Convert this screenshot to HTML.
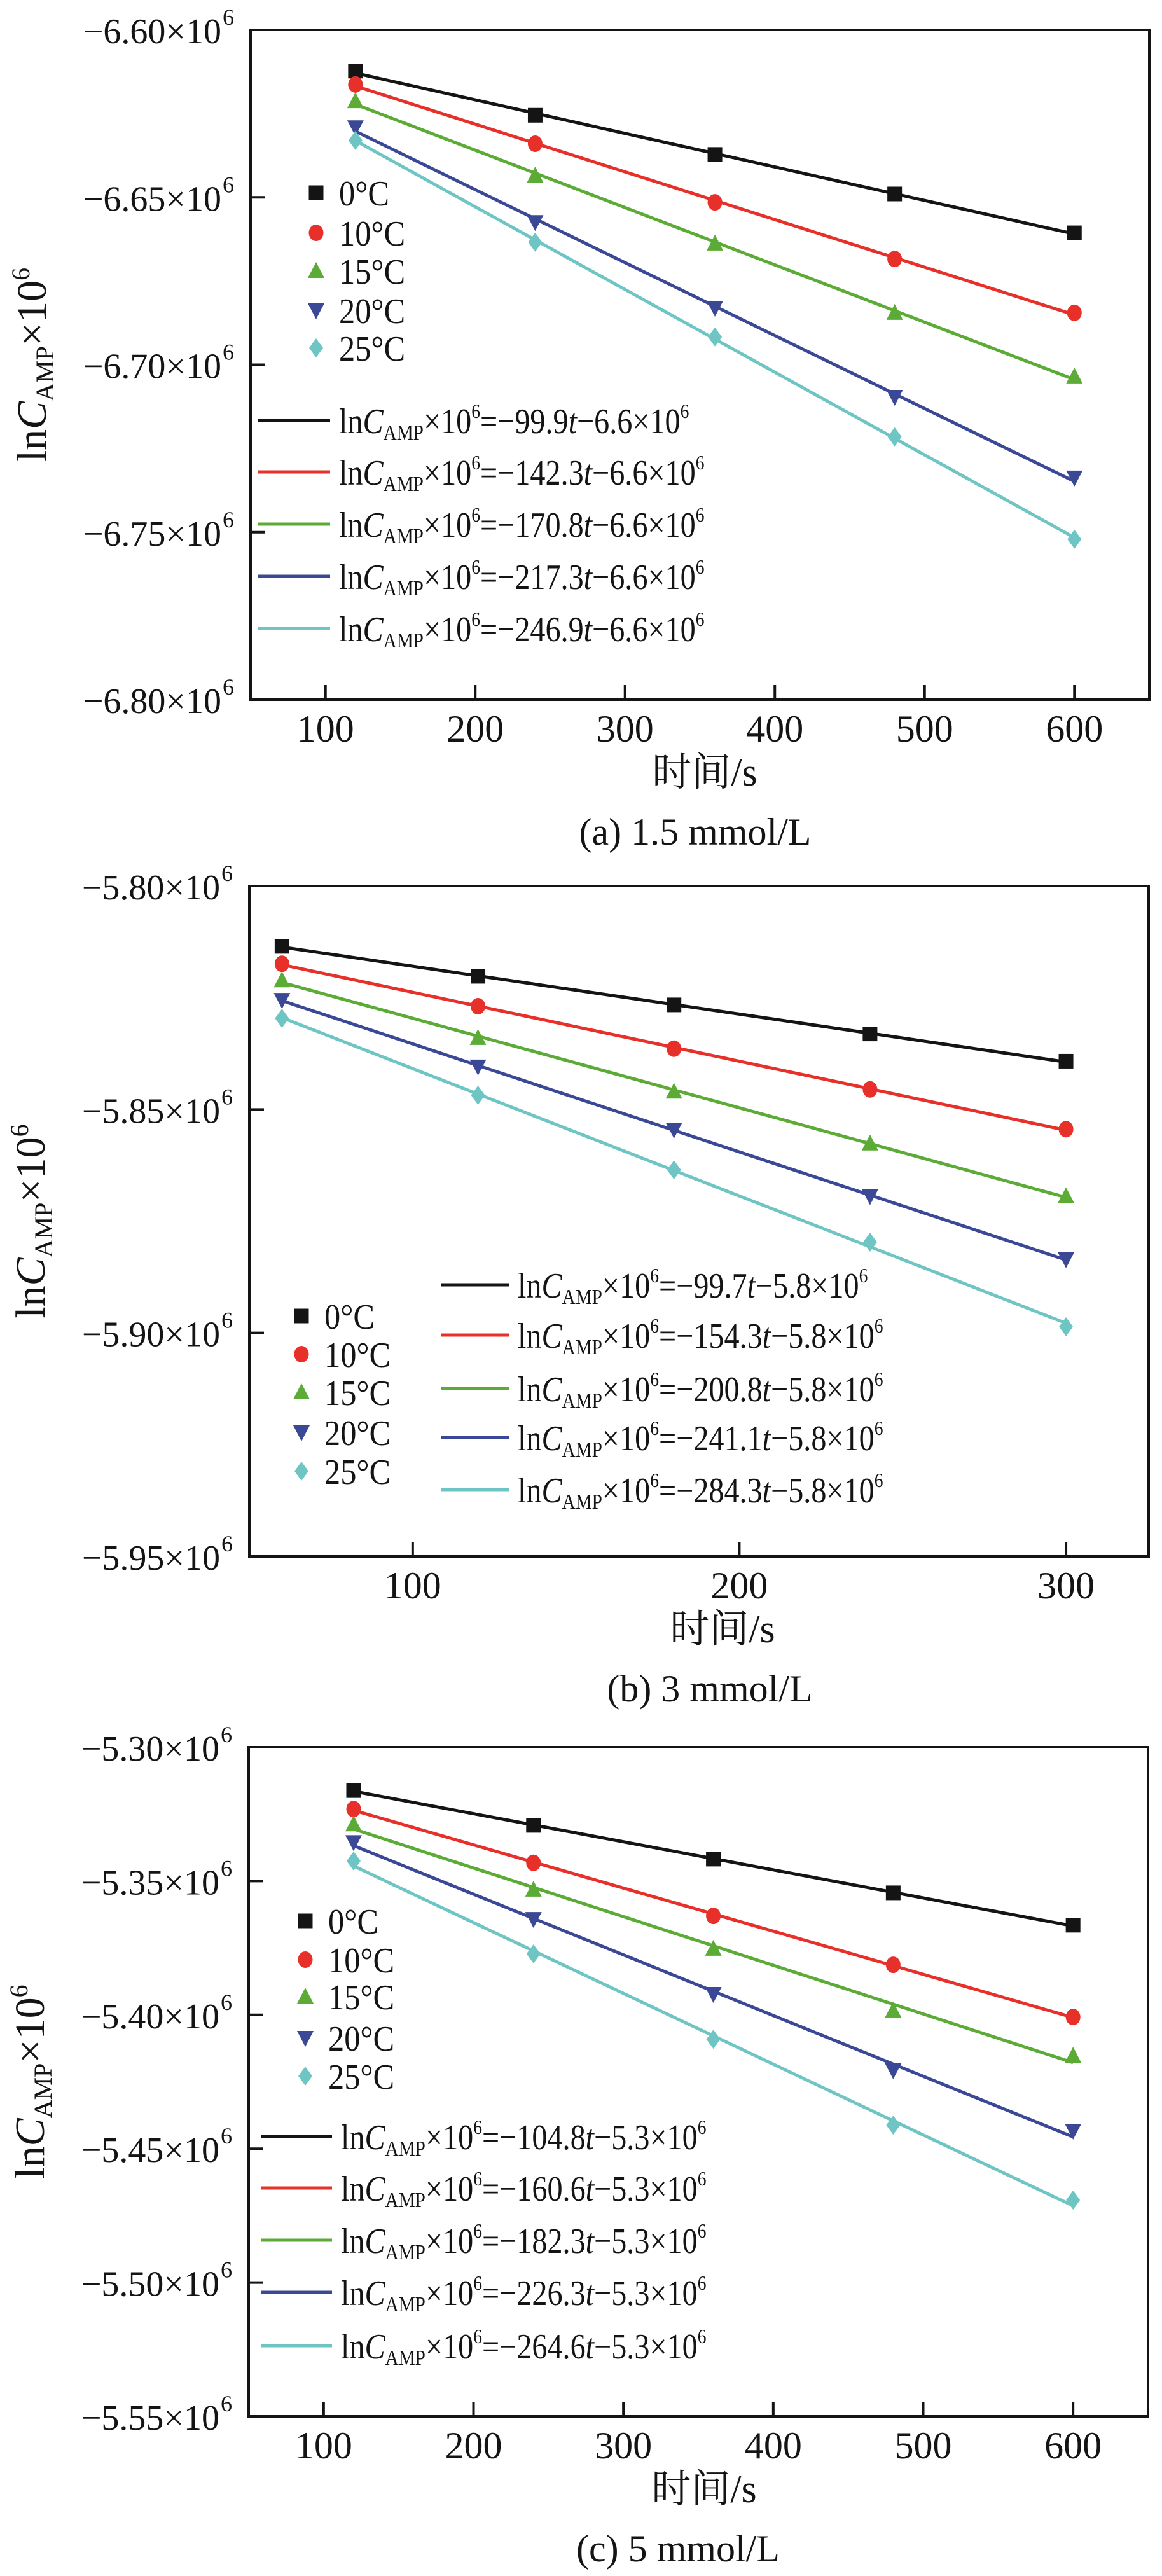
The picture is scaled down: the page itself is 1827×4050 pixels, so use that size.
<!DOCTYPE html>
<html><head><meta charset="utf-8"><style>
html,body{margin:0;padding:0;background:#fff;}
svg{display:block;font-family:"Liberation Serif","Noto Serif CJK SC",serif;}
</style></head><body>
<svg id="fig" width="1827" height="4050" viewBox="0 0 1827 4050" xmlns="http://www.w3.org/2000/svg"></svg>
<script>
// ---- data ----
const seriesNames = ["0°C","10°C","15°C","20°C","25°C"];
const timesA = [120,240,360,480,600];
const timesB = [60,120,180,240,300];
const timesC = [120,240,360,480,600];
const a0 = [-6.6123,-6.6255,-6.6372,-6.6490,-6.6606];
const a10 = [-6.6163,-6.6340,-6.6515,-6.6684,-6.6845];
const a15 = [-6.6213,-6.6435,-6.6638,-6.6845,-6.7035];
const a20 = [-6.6291,-6.6574,-6.6830,-6.7096,-6.7337];
const a25 = [-6.6330,-6.6634,-6.6917,-6.7215,-6.7521];
const b0 = [-5.8135,-5.8202,-5.8266,-5.8331,-5.8392];
const b10 = [-5.8174,-5.8269,-5.8364,-5.8455,-5.8544];
const b15 = [-5.8211,-5.8340,-5.8460,-5.8576,-5.8694];
const b20 = [-5.8255,-5.8404,-5.8545,-5.8694,-5.8835];
const b25 = [-5.8296,-5.8468,-5.8635,-5.8797,-5.8986];
const c0 = [-5.3162,-5.3292,-5.3418,-5.3544,-5.3665];
const c10 = [-5.3231,-5.3432,-5.3630,-5.3813,-5.4008];
const c15 = [-5.3288,-5.3532,-5.3753,-5.3984,-5.4153];
const c20 = [-5.3355,-5.3642,-5.3922,-5.4207,-5.4433];
const c25 = [-5.3425,-5.3772,-5.4091,-5.4412,-5.4692];
const slopesA = ["99.9","142.3","170.8","217.3","246.9"];
const slopesB = ["99.7","154.3","200.8","241.1","284.3"];
const slopesC = ["104.8","160.6","182.3","226.3","264.6"];
const xTicksA = [100,200,300,400,500,600];
const xTicksB = [100,200,300];
const yTicksA = ["6.60","6.65","6.70","6.75","6.80"];
const yTicksB = ["5.80","5.85","5.90","5.95"];
const yTicksC = ["5.30","5.35","5.40","5.45","5.50","5.55"];

const colors = ["#141414","#e8302a","#5bab36","#3a4895","#6fc4c4"];
const NS = "http://www.w3.org/2000/svg";
const svg = document.getElementById('fig');
function el(tag, attrs, parent){const e=document.createElementNS(NS,tag);for(const k in attrs)e.setAttribute(k,attrs[k]);(parent||svg).appendChild(e);return e;}

function marker(g,i,x,y){
  let m;
  const c=colors[i];
  if(i===0) m=el('rect',{x:x-11.5,y:y-11.5,width:23,height:23,fill:c},g);
  else if(i===1) m=el('ellipse',{cx:x,cy:y,rx:11.5,ry:13,fill:c},g);
  else if(i===2) m=el('polygon',{points:`${x},${y-14} ${x+13},${y+11} ${x-13},${y+11}`,fill:c},g);
  else if(i===3) m=el('polygon',{points:`${x},${y+14} ${x+13},${y-11} ${x-13},${y-11}`,fill:c},g);
  else m=el('polygon',{points:`${x},${y-15} ${x+11},${y} ${x},${y+15} ${x-11},${y}`,fill:c},g);
  return m;
}

function panel(p){
  const g=el('g',{});
  
  
  const X=v=>p.left+(v-p.xmin)/(p.xmax-p.xmin)*(p.right-p.left);
  const Y=v=>p.top+(p.ymax-v)/(p.ymax-p.ymin)*(p.bottom-p.top);
  const fr=el('rect',{x:p.left,y:p.top,width:p.right-p.left,height:p.bottom-p.top,fill:'none',stroke:'#141414','stroke-width':4},g);
  
  
  p.xticks.forEach(t=>{
    const tl=el('line',{x1:X(t),x2:X(t),y1:p.bottom,y2:p.bottom-23,stroke:'#141414','stroke-width':4},g);
    
    
    const tx=el('text',{x:X(t),y:p.bottom+66,'font-size':60,'text-anchor':'middle',fill:'#141414'},g);
    tx.textContent=t;
    
    
  });
  p.yticks.forEach(t=>{
    const v=-parseFloat(t);
    const y=Y(v);
    if(y>p.top+3&&y<p.bottom-3){
      const tl=el('line',{x1:p.left,x2:p.left+23,y1:y,y2:y,stroke:'#141414','stroke-width':4},g);
      
      
    }
    const tx=el('text',{x:p.left-46,y:y+21,'font-size':56,'text-anchor':'end',fill:'#141414'},g);
    
    
    tx.innerHTML='−'+t+'×10';
    const sup=el('text',{x:p.left-44,y:y-8,'font-size':36,fill:'#141414'},g);
    sup.textContent='6';
    
    
  });
  p.series.forEach((ys,i)=>{
    const xs=p.times;
    const n=xs.length;let sx=0,sy=0,sxx=0,sxy=0;
    for(let k=0;k<n;k++){sx+=xs[k];sy+=ys[k];sxx+=xs[k]*xs[k];sxy+=xs[k]*ys[k];}
    const b=(n*sxy-sx*sy)/(n*sxx-sx*sx), a=(sy-b*sx)/n;
    const ln=el('line',{x1:X(xs[0]),y1:Y(a+b*xs[0]),x2:X(xs[n-1]),y2:Y(a+b*xs[n-1]),stroke:colors[i],'stroke-width':5},g);
    
    
    xs.forEach((x,k)=>{
      const m=marker(g,i,X(x),Y(ys[k]));
      
      
    });
  });
  seriesNames.forEach((s,i)=>{
    const y=p.legY[i];
    const m=marker(g,i,p.legX,y);
    
    
    const t=el('text',{x:0,y:0,'font-size':56,fill:'#141414',transform:`translate(${p.legX+36},${y+20}) scale(0.9,1)`},g);
    t.textContent=s;
    
    
  });
  p.slopes.forEach((s,i)=>{
    const y=p.eqY[i];
    const l=el('line',{x1:p.eqX1,x2:p.eqX2,y1:y,y2:y,stroke:colors[i],'stroke-width':5},g);
    
    
    const t=el('text',{x:0,y:0,'font-size':56,fill:'#141414',transform:`translate(${p.eqX2+14},${y+20}) scale(0.86,1)`},g);
    
    
    t.innerHTML=`ln<tspan font-style="italic">C</tspan><tspan font-size="34" dy="10">AMP</tspan><tspan dy="-10">×10</tspan><tspan font-size="32" dy="-24">6</tspan><tspan dy="24">=−${s}</tspan><tspan font-style="italic">t</tspan>−${p.c}×10<tspan font-size="32" dy="-24">6</tspan>`;
  });
  const cy=(p.top+p.bottom)/2;
  const yt=el('text',{x:0,y:0,'font-size':66,'text-anchor':'middle',fill:'#141414',transform:`translate(${p.left-322},${cy}) rotate(-90)`},g);
  
  
  yt.innerHTML='ln<tspan font-style="italic">C</tspan><tspan font-size="40" dy="12">AMP</tspan><tspan dy="-12">×10</tspan><tspan font-size="40" dy="-26">6</tspan>';
  const xt=el('text',{x:p.xTitleX,y:p.bottom+135,'font-size':62,'text-anchor':'middle',fill:'#141414'},g);
  xt.textContent='时间/s';
  
  
  const cap=el('text',{x:p.capX,y:p.bottom+228,'font-size':60,'text-anchor':'middle',fill:'#141414'},g);
  cap.textContent=p.caption;
  
  
}

panel({name:'panel-a',left:394,right:1807,top:47,bottom:1100,xmin:50,xmax:650,ymin:-6.80,ymax:-6.60,
  xticks:xTicksA,yticks:yTicksA,times:timesA,series:[a0,a10,a15,a20,a25],slopes:slopesA,c:'6.6',
  legX:497,legY:[303,366,426,488,547],eqX1:406,eqX2:519,eqY:[661,742,824,906,988],
  xTitleX:1108,capX:1093,caption:'(a) 1.5 mmol/L'});
panel({name:'panel-b',left:392,right:1806,top:1393,bottom:2447,xmin:50,xmax:325.3,ymin:-5.95,ymax:-5.80,
  xticks:xTicksB,yticks:yTicksB,times:timesB,series:[b0,b10,b15,b20,b25],slopes:slopesB,c:'5.8',
  legX:474,legY:[2069,2129,2189,2252,2313],eqX1:693,eqX2:800,eqY:[2020,2099,2183,2260,2342],
  xTitleX:1136,capX:1116,caption:'(b) 3 mmol/L'});
panel({name:'panel-c',left:391,right:1805,top:2747,bottom:3799,xmin:50,xmax:650,ymin:-5.55,ymax:-5.30,
  xticks:xTicksA,yticks:yTicksC,times:timesC,series:[c0,c10,c15,c20,c25],slopes:slopesC,c:'5.3',
  legX:480,legY:[3020,3081,3139,3204,3264],eqX1:410,eqX2:522,eqY:[3359,3440,3522,3604,3688],
  xTitleX:1107,capX:1066,caption:'(c) 5 mmol/L'});
</script>
</body></html>
